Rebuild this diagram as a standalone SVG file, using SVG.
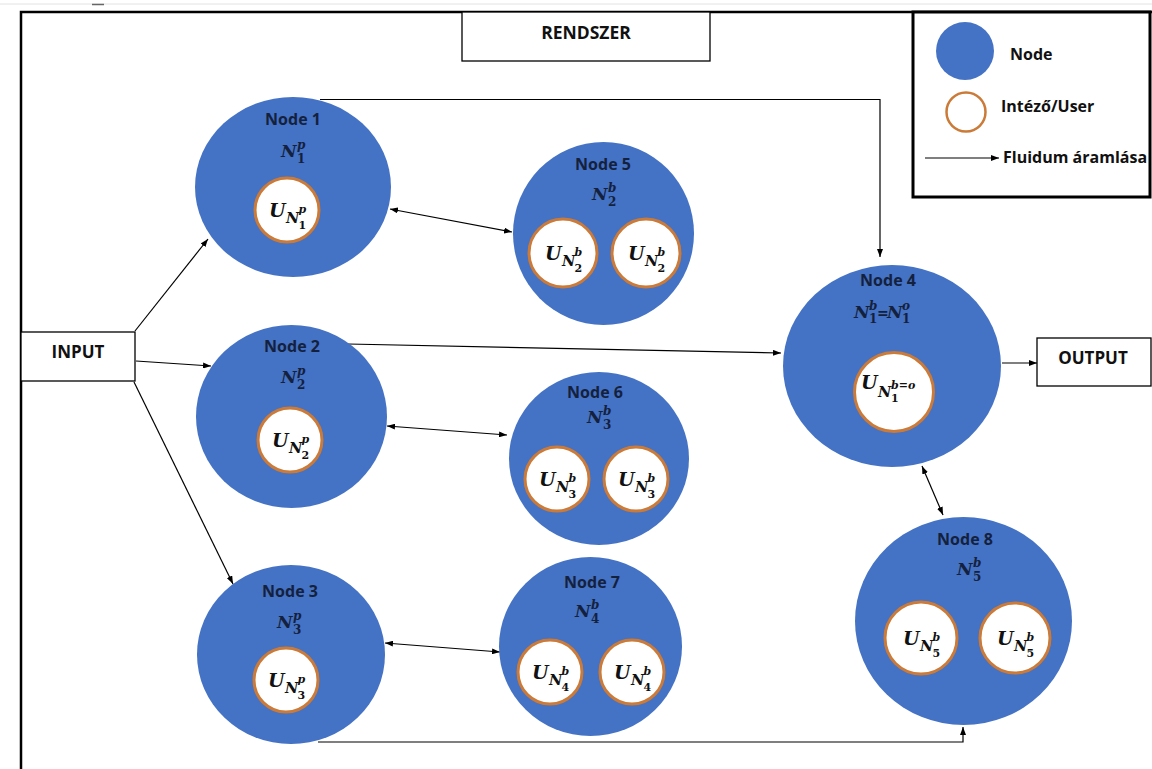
<svg xmlns="http://www.w3.org/2000/svg" width="1152" height="769" viewBox="0 0 1152 769">
<style>
.nd{fill:#4472C4}
.us{fill:#fff;stroke:#CB7A38;stroke-width:3}
.lbl{font-family:"Open Sans",Lato,sans-serif;font-weight:700;font-size:16px;fill:#14213d;text-anchor:middle}
.blk{font-family:"Open Sans",Lato,sans-serif;font-weight:700;fill:#111}
.m{font-family:"DejaVu Serif","Liberation Serif",serif;font-weight:700;font-style:italic;fill:#14213d}
.u{font-family:"DejaVu Serif","Liberation Serif",serif;font-weight:700;font-style:italic;fill:#111}
.d{font-style:normal}
.mN{font-size:17px}
.mS{font-size:12px}
.uU{font-size:19px}
.uN{font-size:14.5px}
.uS{font-size:11px}
.conn{stroke:#000;stroke-width:1.2;fill:none}
.box{fill:#fff;stroke:#000;stroke-width:1.3}
</style>
<defs>
<marker id="ah" viewBox="0 0 8 6" refX="8" refY="3" markerWidth="8" markerHeight="6" markerUnits="userSpaceOnUse" orient="auto-start-reverse"><path d="M0,0 L8,3 L0,6 z" fill="#000"/></marker>
</defs>
<rect width="1152" height="769" fill="#fff"/>
<line x1="0" y1="4" x2="1152" y2="4" stroke="#e2e2e2" stroke-width="1"/>
<line x1="92" y1="4.5" x2="104" y2="4.5" stroke="#666" stroke-width="1.5"/>
<path d="M21,769 V12 H1152" fill="none" stroke="#000" stroke-width="2.5"/>
<g id="rendszer">
<rect class="box" x="462" y="12" width="248" height="49"/>
<text class="blk" x="586" y="39" font-size="17.5" text-anchor="middle">RENDSZER</text>
</g>
<g id="legend">
<rect x="913" y="12" width="237" height="185" fill="#fff" stroke="#000" stroke-width="3"/>
<circle cx="965" cy="51" r="29" fill="#4472C4"/>
<text class="blk" x="1010" y="60" font-size="16">Node</text>
<circle cx="966" cy="112" r="19.5" fill="#fff" stroke="#CB7A38" stroke-width="2.5"/>
<text class="blk" x="1001" y="112" font-size="16">Intéző/User</text>
<line class="conn" x1="925" y1="158" x2="999" y2="158" marker-end="url(#ah)"/>
<text class="blk" x="1003" y="163" font-size="16">Fluidum áramlása</text>
</g>
<g id="input">
<rect class="box" x="21" y="332" width="114" height="49"/>
<text class="blk" x="78" y="358" font-size="17" text-anchor="middle">INPUT</text>
</g>
<g id="output">
<rect class="box" x="1037" y="338" width="114" height="48"/>
<text class="blk" x="1093" y="364" font-size="17" text-anchor="middle">OUTPUT</text>
</g>

<g id="connectors">
<path class="conn" d="M320,99.5 H880 V257" marker-end="url(#ah)"/>
<path class="conn" d="M135,331 L208,239" marker-end="url(#ah)"/>
<path class="conn" d="M136,361 L211,366" marker-end="url(#ah)"/>
<path class="conn" d="M134,382 L233,584" marker-end="url(#ah)"/>
<path class="conn" d="M348,344 L781,353" marker-end="url(#ah)"/>
<path class="conn" d="M390,209 L512,232" marker-start="url(#ah)" marker-end="url(#ah)"/>
<path class="conn" d="M387,426 L507,435" marker-start="url(#ah)" marker-end="url(#ah)"/>
<path class="conn" d="M385,643 L500,652" marker-start="url(#ah)" marker-end="url(#ah)"/>
<path class="conn" d="M1002,363 H1037" marker-end="url(#ah)"/>
<path class="conn" d="M922,466 L943,515" marker-start="url(#ah)" marker-end="url(#ah)"/>
<path class="conn" d="M318,742 H963 V727" stroke="#404040" stroke-width="1.6" marker-end="url(#ah)"/>
</g>

<g id="node1">
<ellipse class="nd" cx="293" cy="187" rx="98" ry="90"/>
<text class="lbl" x="293" y="125">Node 1</text>
<text class="m mN" x="281" y="157">N</text><text class="m mS" x="297" y="149">p</text><text class="m mS d" x="297" y="163">1</text>
<circle class="us" cx="287" cy="210" r="32"/>
<g transform="translate(287,210)"><text class="u uU" x="-18" y="7">U</text><text class="u uN" x="-1" y="13">N</text><text class="u uS" x="11.5" y="3">p</text><text class="u uS d" x="11.5" y="19">1</text></g>
</g>

<g id="node2">
<ellipse class="nd" cx="291.5" cy="416.5" rx="95.5" ry="91.5"/>
<text class="lbl" x="292" y="352">Node 2</text>
<text class="m mN" x="281" y="383">N</text><text class="m mS" x="297" y="375">p</text><text class="m mS d" x="297" y="389">2</text>
<circle class="us" cx="290" cy="440" r="32"/>
<g transform="translate(290,440)"><text class="u uU" x="-18" y="7">U</text><text class="u uN" x="-1" y="13">N</text><text class="u uS" x="11.5" y="3">p</text><text class="u uS d" x="11.5" y="19">2</text></g>
</g>

<g id="node3">
<ellipse class="nd" cx="291" cy="654.5" rx="94" ry="89.5"/>
<text class="lbl" x="290" y="597">Node 3</text>
<text class="m mN" x="277" y="628">N</text><text class="m mS" x="293" y="620">p</text><text class="m mS d" x="293" y="634">3</text>
<circle class="us" cx="286" cy="680" r="32"/>
<g transform="translate(286,680)"><text class="u uU" x="-18" y="7">U</text><text class="u uN" x="-1" y="13">N</text><text class="u uS" x="11.5" y="3">p</text><text class="u uS d" x="11.5" y="19">3</text></g>
</g>

<g id="node5">
<ellipse class="nd" cx="603.5" cy="233.5" rx="90.5" ry="91.5"/>
<text class="lbl" x="603" y="170">Node 5</text>
<text class="m mN" x="592" y="200">N</text><text class="m mS" x="608" y="192">b</text><text class="m mS d" x="608" y="206">2</text>
<circle class="us" cx="563" cy="253" r="34"/>
<g transform="translate(563,253)"><text class="u uU" x="-18" y="7">U</text><text class="u uN" x="-1" y="13">N</text><text class="u uS" x="11.5" y="3">b</text><text class="u uS d" x="11.5" y="19">2</text></g>
<circle class="us" cx="646" cy="253" r="34"/>
<g transform="translate(646,253)"><text class="u uU" x="-18" y="7">U</text><text class="u uN" x="-1" y="13">N</text><text class="u uS" x="11.5" y="3">b</text><text class="u uS d" x="11.5" y="19">2</text></g>
</g>

<g id="node6">
<ellipse class="nd" cx="599" cy="458.5" rx="90" ry="86.5"/>
<text class="lbl" x="595" y="398">Node 6</text>
<text class="m mN" x="587" y="423">N</text><text class="m mS" x="603" y="415">b</text><text class="m mS d" x="603" y="429">3</text>
<circle class="us" cx="557" cy="479" r="32"/>
<g transform="translate(557,479)"><text class="u uU" x="-18" y="7">U</text><text class="u uN" x="-1" y="13">N</text><text class="u uS" x="11.5" y="3">b</text><text class="u uS d" x="11.5" y="19">3</text></g>
<circle class="us" cx="636" cy="479" r="32"/>
<g transform="translate(636,479)"><text class="u uU" x="-18" y="7">U</text><text class="u uN" x="-1" y="13">N</text><text class="u uS" x="11.5" y="3">b</text><text class="u uS d" x="11.5" y="19">3</text></g>
</g>

<g id="node7">
<ellipse class="nd" cx="590.5" cy="646.5" rx="91.5" ry="89.5"/>
<text class="lbl" x="592" y="588">Node 7</text>
<text class="m mN" x="575" y="617">N</text><text class="m mS" x="591" y="609">b</text><text class="m mS d" x="591" y="623">4</text>
<circle class="us" cx="550" cy="672" r="32"/>
<g transform="translate(550,672)"><text class="u uU" x="-18" y="7">U</text><text class="u uN" x="-1" y="13">N</text><text class="u uS" x="11.5" y="3">b</text><text class="u uS d" x="11.5" y="19">4</text></g>
<circle class="us" cx="632" cy="672" r="32"/>
<g transform="translate(632,672)"><text class="u uU" x="-18" y="7">U</text><text class="u uN" x="-1" y="13">N</text><text class="u uS" x="11.5" y="3">b</text><text class="u uS d" x="11.5" y="19">4</text></g>
</g>

<g id="node4">
<ellipse class="nd" cx="892" cy="366" rx="109" ry="101"/>
<text class="lbl" x="888" y="286">Node 4</text>
<text class="m mN" x="854" y="318">N</text><text class="m mS" x="869" y="310">b</text><text class="m mS d" x="869" y="323">1</text>
<text class="m d" font-size="14" x="877" y="318">=</text>
<text class="m mN" x="887" y="318">N</text><text class="m mS" x="902" y="310">o</text><text class="m mS d" x="902" y="323">1</text>
<circle class="us" cx="894" cy="392" r="39.5"/>
<g transform="translate(894,392)"><text class="u uU" x="-33" y="-3">U</text><text class="u uN" x="-16" y="5">N</text><text class="u uS" x="-3" y="-3">b=o</text><text class="u uS d" x="-3" y="10">1</text></g>
</g>

<g id="node8">
<ellipse class="nd" cx="963.5" cy="621" rx="108.5" ry="104"/>
<text class="lbl" x="965" y="545">Node 8</text>
<text class="m mN" x="957" y="575">N</text><text class="m mS" x="973" y="567">b</text><text class="m mS d" x="973" y="581">5</text>
<circle class="us" cx="921" cy="638" r="36"/>
<g transform="translate(921,638)"><text class="u uU" x="-18" y="7">U</text><text class="u uN" x="-1" y="13">N</text><text class="u uS" x="11.5" y="3">b</text><text class="u uS d" x="11.5" y="19">5</text></g>
<circle class="us" cx="1015" cy="638" r="35"/>
<g transform="translate(1015,638)"><text class="u uU" x="-18" y="7">U</text><text class="u uN" x="-1" y="13">N</text><text class="u uS" x="11.5" y="3">b</text><text class="u uS d" x="11.5" y="19">5</text></g>
</g>
</svg>
